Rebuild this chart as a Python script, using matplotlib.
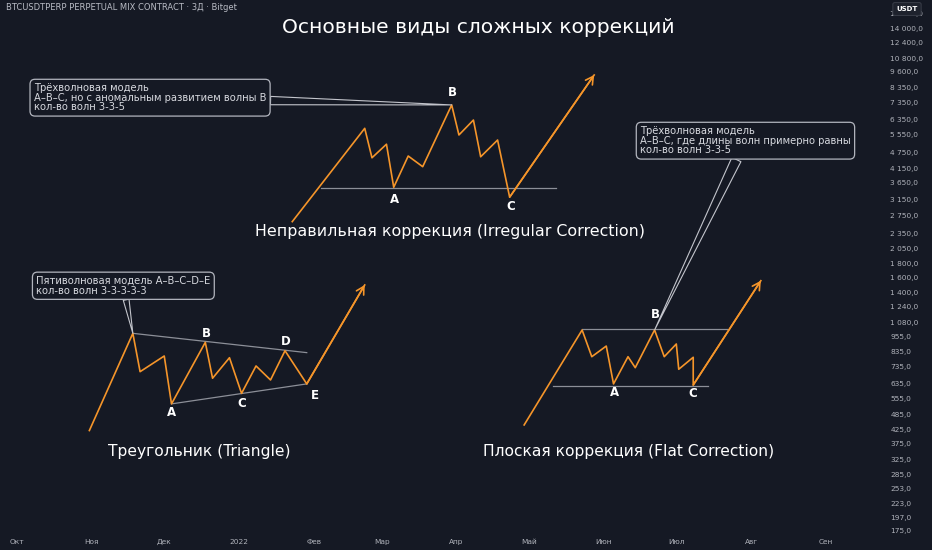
import matplotlib
matplotlib.use("Agg")
import matplotlib.pyplot as plt
import matplotlib.dates as mdates
from matplotlib.ticker import FixedLocator, FuncFormatter, NullLocator
import pandas as pd

# --- data (3D bars, log price scale) ---
irr_dates = ["2022-01-23", "2022-02-22", "2022-02-25", "2022-03-03", "2022-03-06",
             "2022-03-12", "2022-03-18", "2022-03-30", "2022-04-02", "2022-04-08",
             "2022-04-11", "2022-04-18", "2022-04-23", "2022-05-28"]
irr_prices = [2600, 5870, 4540, 5110, 3510, 4610, 4200, 7200, 5540, 6310, 4580, 5300, 3220, 9350]
irr_base_dates = ["2022-02-04", "2022-05-12"]
irr_base_prices = [3480, 3480]

tri_dates = ["2021-10-31", "2021-11-18", "2021-11-21", "2021-12-01", "2021-12-04",
             "2021-12-18", "2021-12-21", "2021-12-28", "2022-01-02", "2022-01-08",
             "2022-01-14", "2022-01-20", "2022-01-29", "2022-02-22"]
tri_prices = [420, 981, 702, 805, 530, 907, 663, 793, 581, 738, 653, 843, 631, 1496]
tri_upper_dates = ["2021-11-18", "2022-01-29"]
tri_upper_prices = [981, 829]
tri_lower_dates = ["2021-12-04", "2022-01-29"]
tri_lower_prices = [530, 631]

flat_dates = ["2022-04-29", "2022-05-23", "2022-05-27", "2022-06-02", "2022-06-05",
              "2022-06-11", "2022-06-14", "2022-06-22", "2022-06-26", "2022-07-01",
              "2022-07-02", "2022-07-08", "2022-07-08", "2022-08-05"]
flat_prices = [441, 1010, 800, 878, 631, 800, 727, 1010, 800, 894, 717, 796, 625, 1553]
flat_upper_dates = ["2022-05-23", "2022-07-22"]
flat_upper_prices = [1019, 1019]
flat_lower_dates = ["2022-05-11", "2022-07-14"]
flat_lower_prices = [621, 621]

price_ticks = [175, 197, 223, 253, 285, 325, 375, 425, 485, 555, 635, 735, 835, 955,
               1080, 1240, 1400, 1600, 1800, 2050, 2350, 2750, 3150, 3650, 4150, 4750,
               5550, 6350, 7350, 8350, 9600, 10800, 12400, 14000, 16000]
month_dates = ["2021-10-01", "2021-11-01", "2021-12-01", "2022-01-01", "2022-02-01",
               "2022-03-01", "2022-04-01", "2022-05-01", "2022-06-01", "2022-07-01",
               "2022-08-01", "2022-09-01"]
month_labels = ["Окт", "Ноя", "Дек", "2022", "Фев", "Мар", "Апр", "Май", "Июн",
                "Июл", "Авг", "Сен"]

BG = "#151924"
ORANGE = "#f5952a"
GRAY = "#8c8f98"
TXT = "#d6d8de"
AXTXT = "#b0b3bb"

plt.rcParams["font.family"] = ["DejaVu Sans"]

fig = plt.figure(figsize=(9.32, 5.5), dpi=100, facecolor=BG)
ax = fig.add_axes([0, 15 / 550, 878 / 932, 535 / 550], facecolor=BG)
ax.set_yscale("log")


def dn(dates):
    return mdates.date2num(pd.to_datetime(dates))


def wave(dates, prices):
    x = dn(dates)
    ax.plot(x, prices, color=ORANGE, lw=1.2, zorder=3)
    ax.annotate("", xy=(x[-1], prices[-1]), xytext=(x[-2], prices[-2]),
                arrowprops=dict(arrowstyle="->,head_length=0.45,head_width=0.25",
                                color=ORANGE, lw=1.2, shrinkA=0, shrinkB=0,
                                mutation_scale=12), zorder=3)
    return x


def guide(dates, prices):
    ax.plot(dn(dates), prices, color=GRAY, lw=0.9, zorder=2)


def letters(x, prices, marks):
    for name, i, dx, dy in marks:
        ax.annotate(name, xy=(x[i], prices[i]), xytext=(dx, dy), textcoords="offset points",
                    ha="center", va="center", color="white", fontsize=8.5,
                    fontweight="bold", zorder=4)


def callout(text, text_date, text_price, x, price, tail):
    ax.annotate(text, xy=(x, price), xytext=(dn([text_date])[0], text_price),
                ha="left", va="center", color=TXT, fontsize=7.2, linespacing=0.95,
                bbox=dict(boxstyle="round,pad=0.38,rounding_size=0.5", fc=BG,
                          ec="#b2b5be", lw=0.9),
                arrowprops=dict(arrowstyle=f"wedge,tail_width={tail},shrink_factor=0.5",
                                fc=BG, ec="#c3c5cc", lw=0.8, shrinkA=0, shrinkB=0,
                                mutation_scale=12),
                zorder=5)


# irregular correction
guide(irr_base_dates, irr_base_prices)
xi = wave(irr_dates, irr_prices)
letters(xi, irr_prices, [("A", 4, 0.5, -9), ("B", 7, 0.7, 9), ("C", 12, 1, -7)])
callout("Трёхволновая модель\nA–B–C, но с аномальным развитием волны B\nкол-во волн 3-3-5",
        "2021-10-08", 7670, xi[7], irr_prices[7], 0.5)

# triangle
guide(tri_upper_dates, tri_upper_prices)
guide(tri_lower_dates, tri_lower_prices)
xt = wave(tri_dates, tri_prices)
letters(xt, tri_prices, [("A", 4, 0.3, -6), ("B", 5, 0.5, 6.5), ("C", 8, 0.5, -7),
                         ("D", 11, 0.7, 6.5), ("E", 12, 5.5, -8.5)])
callout("Пятиволновая модель A–B–C–D–E\nкол-во волн 3-3-3-3-3",
        "2021-10-09", 1486, xt[1], tri_prices[1], 0.35)

# flat correction
guide(flat_upper_dates, flat_upper_prices)
guide(flat_lower_dates, flat_lower_prices)
xf = wave(flat_dates, flat_prices)
letters(xf, flat_prices, [("A", 4, 0.5, -6.5), ("B", 7, 0.7, 11), ("C", 12, 0, -6)])
callout("Трёхволновая модель\nA–B–C, где длины волн примерно равны\nкол-во волн 3-3-5",
        "2022-06-16", 5270, xf[7], flat_prices[7], 0.6)

# titles
ax.text(0.5444, 0.9477, "Основные виды сложных коррекций", transform=ax.transAxes,
        ha="center", va="center", color="white", fontsize=14.6)
ax.text(0.5125, 0.5677, "Неправильная коррекция (Irregular Correction)", transform=ax.transAxes,
        ha="center", va="center", color="white", fontsize=11.4)
ax.text(0.2272, 0.157, "Треугольник (Triangle)", transform=ax.transAxes,
        ha="center", va="center", color="white", fontsize=11.2)
ax.text(0.7164, 0.157, "Плоская коррекция (Flat Correction)", transform=ax.transAxes,
        ha="center", va="center", color="white", fontsize=11.2)

# axes
ax.set_xlim(dn(["2021-09-24"])[0], dn(["2022-09-22 12:00"])[0])
ax.set_ylim(168.8, 17989)
ax.yaxis.tick_right()
ax.yaxis.set_major_locator(FixedLocator(price_ticks))
ax.yaxis.set_minor_locator(NullLocator())
ax.yaxis.set_major_formatter(FuncFormatter(
    lambda v, p: f"{v:,.1f}".replace(",", " ").replace(".", ",")))
ax.set_xticks(dn(month_dates))
ax.set_xticklabels(month_labels)
ax.tick_params(axis="y", length=0, pad=9, labelsize=5.3, labelcolor=AXTXT)
ax.tick_params(axis="x", length=0, pad=3, labelsize=5.3, labelcolor=AXTXT)
for s in ax.spines.values():
    s.set_visible(False)

fig.text(6 / 932, 1 - 7 / 550, "BTCUSDTPERP PERPETUAL MIX CONTRACT · 3Д · Bitget",
         ha="left", va="center", color="#b8bbc4", fontsize=6)
fig.text(907 / 932, 1 - 9 / 550, "USDT", ha="center", va="center", color="white",
         fontsize=5, fontweight="bold", zorder=10,
         bbox=dict(boxstyle="round,pad=0.5,rounding_size=0.3", fc="#1e222d",
                   ec="#363a45", lw=0.8))

fig.savefig("out.png", dpi=100, facecolor=BG)
